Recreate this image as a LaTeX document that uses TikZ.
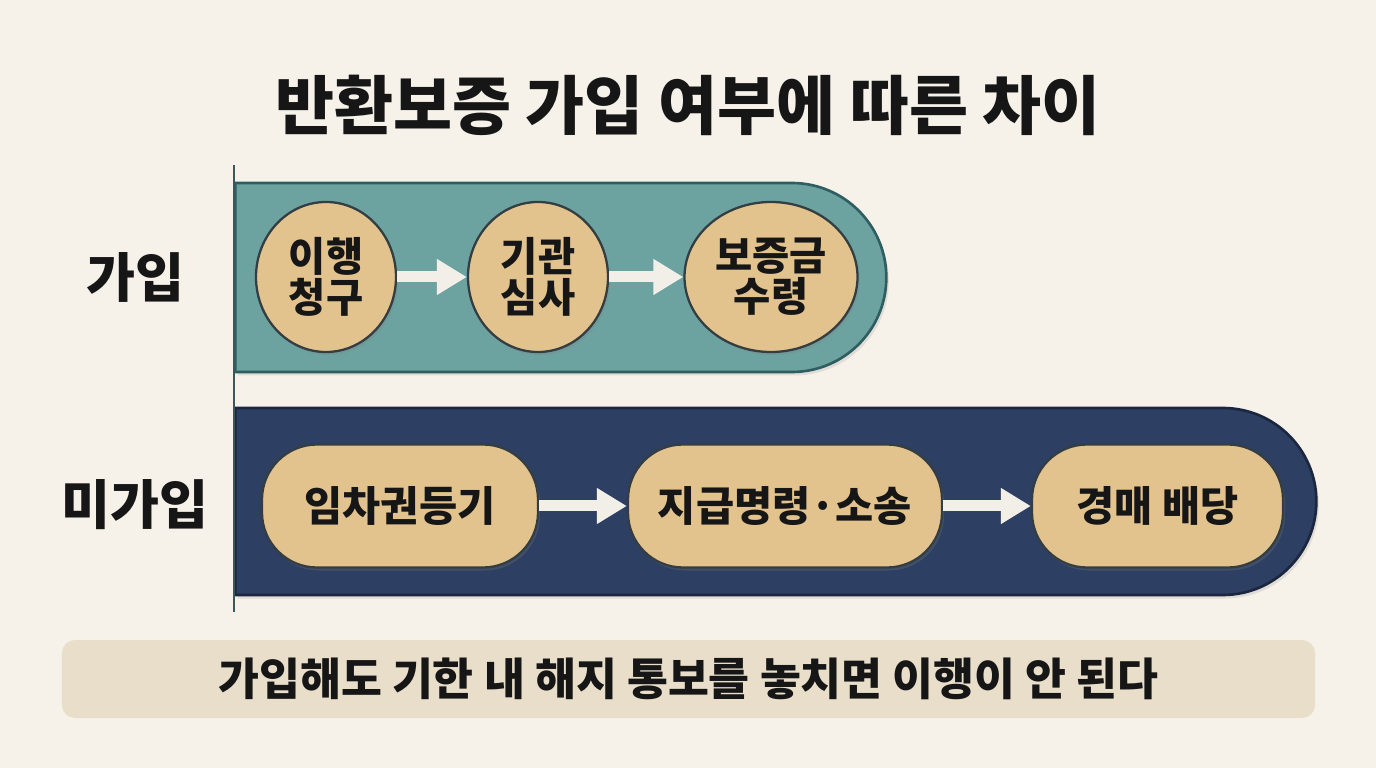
\documentclass[tikz,border=0pt]{standalone}
\usepackage{fontspec}
\setmainfont{Noto Sans CJK KR}
\usepackage{tikz}
\usetikzlibrary{shapes.geometric, shapes.misc, arrows.meta, positioning, shadows}
\definecolor{mybg}{RGB}{246,242,234}
\definecolor{myink}{RGB}{22,22,22}
\definecolor{tealfill}{RGB}{108,162,160}
\definecolor{tealedge}{RGB}{46,94,98}
\definecolor{navyfill}{RGB}{45,63,98}
\definecolor{navyedge}{RGB}{27,38,64}
\definecolor{sandfill}{RGB}{226,195,142}
\definecolor{sandedge}{RGB}{52,62,66}
\definecolor{notefill}{RGB}{232,222,202}
\definecolor{axisline}{RGB}{58,88,90}
\definecolor{arrowwhite}{RGB}{242,239,232}
\tikzset{
  band/.style={rounded rectangle, rounded rectangle left arc=none,
    inner sep=0pt, line width=1.5pt,
    drop shadow={opacity=0.18, shadow xshift=0.5mm, shadow yshift=-0.7mm}},
  stepell/.style={ellipse, draw=sandedge, fill=sandfill, line width=1.3pt,
    align=center, inner sep=0pt, minimum width=28mm, minimum height=30mm,
    text=myink, font=\fontsize{23}{23.5}\selectfont\bfseries,
    drop shadow={opacity=0.25, shadow xshift=0.4mm, shadow yshift=-0.6mm}},
  steprect/.style={rectangle, draw=sandedge, fill=sandfill, line width=1.3pt,
    rounded corners=11mm, inner sep=0pt, minimum height=24.6mm,
    text=myink, font=\fontsize{23.6}{26}\selectfont\bfseries,
    drop shadow={opacity=0.25, shadow xshift=0.4mm, shadow yshift=-0.6mm}},
  rowlabel/.style={text=myink, font=\fontsize{30.3}{34}\selectfont\bfseries},
  flowarrow/.style={-{Triangle[length=6mm, width=6.8mm]}, line width=2.2mm,
    color=arrowwhite}
}

\begin{document}
\begin{tikzpicture}[x=0.2mm, y=-0.2mm, >=Stealth]
  % Background
  \fill[mybg] (0,0) rectangle (1376,768);

  % Title
  \node[text=myink, font=\fontsize{36.5}{40}\selectfont\bfseries] (title) at (688,105)
    {반환보증 가입 여부에 따른 차이};

  % Bands
  \node[band, draw=tealedge, fill=tealfill, anchor=west,
    minimum width=130.2mm, minimum height=37.8mm] (joinband) at (234,277.5) {};
  \node[band, draw=navyedge, fill=navyfill, anchor=west,
    minimum width=216.2mm, minimum height=37.4mm] (noband) at (234,501.5) {};

  % Vertical axis
  \coordinate (axtop) at (234,165);
  \coordinate (axbot) at (234,612);
  \draw[axisline, line width=1.6pt] (axtop) -- (axbot);

  % Row labels
  \node[rowlabel] (joinlbl) at (135,277) {가입};
  \node[rowlabel] (nolbl) at (135,505) {미가입};

  % Insured path
  \node[stepell] (claim) at (326,277) {이행\\청구};
  \node[stepell] (review) at (538,277) {기관\\심사};
  \node[stepell, minimum width=34.6mm] (payout) at (771,277) {보증금\\수령};
  \draw[flowarrow] (claim) -- (review);
  \draw[flowarrow] (review) -- (payout);

  % Uninsured path
  \node[steprect, minimum width=55.2mm] (lease) at (400,506) {임차권등기};
  \node[steprect, minimum width=62.8mm] (order) at (785,506) {지급명령·소송};
  \node[steprect, minimum width=50.2mm] (auction) at (1157.5,506) {경매 배당};
  \draw[flowarrow] (lease) -- (order);
  \draw[flowarrow] (order) -- (auction);

  % Note bar
  \node[fill=notefill, rounded corners=2.6mm, minimum width=250.6mm,
    minimum height=15.6mm, inner sep=0pt, text=myink,
    font=\fontsize{25.3}{28}\selectfont\bfseries] (note) at (688.5,679)
    {가입해도 기한 내 해지 통보를 놓치면 이행이 안 된다};
\end{tikzpicture}
\end{document}
